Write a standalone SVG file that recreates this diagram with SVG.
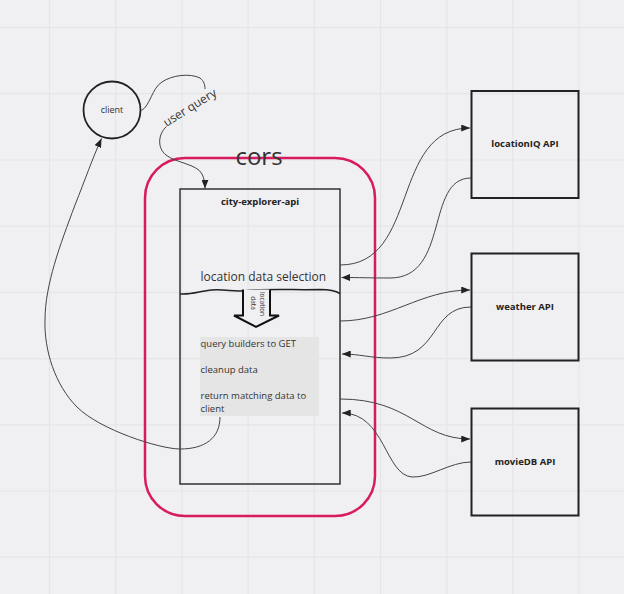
<svg xmlns="http://www.w3.org/2000/svg" width="624" height="594" viewBox="0 0 624 594">
<defs>
<style>
.grid{stroke:#e5e5e8;stroke-width:1.2}
.box{fill:none;stroke:#222;stroke-width:2}
.lbl{font-family:"Open Sans","Liberation Sans",sans-serif;fill:#333}
.bold{font-weight:bold;fill:#222}
.conn{fill:none;stroke:#444;stroke-width:1}
</style>
<marker id="ah" viewBox="0 0 10 8" refX="10" refY="4" markerWidth="9" markerHeight="7" markerUnits="userSpaceOnUse" orient="auto">
<path d="M0,0 L10,4 L0,8 z" fill="#222"/>
</marker>
</defs>
<rect width="624" height="594" fill="#f0eff1"/>
<g id="grid">
<path class="grid" d="M49.5,0V594M115.7,0V594M181.9,0V594M248.1,0V594M314.3,0V594M380.5,0V594M446.7,0V594M512.9,0V594M579.1,0V594M0,27.5H624M0,93.7H624M0,160H624M0,226.2H624M0,292.4H624M0,358.6H624M0,424.8H624M0,491H624M0,557.2H624"/>
</g>
<g id="cors">
<rect x="145" y="158" width="230" height="358" rx="40" fill="none" stroke="#d81b5e" stroke-width="2.5"/>
<text class="lbl" x="259" y="165" font-size="24" text-anchor="middle" fill="#222">cors</text>
</g>
<g id="client">
<circle cx="112" cy="110" r="28.5" fill="none" stroke="#222" stroke-width="1.8"/>
<text class="lbl" x="112" y="113" font-size="9" text-anchor="middle">client</text>
</g>
<g id="city-explorer-api">
<rect x="180" y="189" width="160" height="295" fill="none" stroke="#333" stroke-width="1.5"/>
<text class="lbl bold" x="260" y="205" font-size="9.5" text-anchor="middle">city-explorer-api</text>
<text class="lbl" x="200.5" y="281" font-size="12">location data selection</text>
<path d="M180,294 C192,295 200,291 212,290 C228,289 236,293 250,290 C275,289 300,290 320,289.5 C330,289.5 336,291 340,293.5" fill="none" stroke="#222" stroke-width="1.5"/>
<path d="M243,289.5 V315.5 H234 L256,327 L279,315.5 H270 V289.5" fill="#f0eff1" stroke="#111" stroke-width="2"/>
<text class="lbl" font-size="6.5" text-anchor="middle" transform="translate(259.5,304) rotate(90)">location</text>
<text class="lbl" font-size="6.5" text-anchor="middle" transform="translate(250.5,303) rotate(90)">data</text>
<rect x="200" y="337" width="119" height="79" fill="#e5e5e6"/>
<text class="lbl" font-size="9.5" x="200.5" y="347" fill="#444">query builders to GET</text>
<text class="lbl" font-size="9.5" x="200.5" y="372.5" fill="#444">cleanup data</text>
<text class="lbl" font-size="9.5" x="200.5" y="399" fill="#444">return matching data to</text>
<text class="lbl" font-size="9.5" x="200.5" y="412" fill="#444">client</text>
</g>
<g id="locationIQ-API">
<rect class="box" x="471.5" y="91" width="107" height="107"/>
<text class="lbl bold" x="525" y="147" font-size="9.5" text-anchor="middle">locationIQ API</text>
</g>
<g id="weather-API">
<rect class="box" x="471.5" y="253.5" width="107" height="107"/>
<text class="lbl bold" x="525" y="310" font-size="9.5" text-anchor="middle">weather API</text>
</g>
<g id="movieDB-API">
<rect class="box" x="471.5" y="408.5" width="107" height="107"/>
<text class="lbl bold" x="525" y="465" font-size="9.5" text-anchor="middle">movieDB API</text>
</g>
<g id="connectors">
<path class="conn" d="M141.5,110.5 C150,106 152,88 162,82 C172,75 190,73 200,78 C204,81 205,85 205,89"/>
<text class="lbl" font-size="12" text-anchor="middle" transform="translate(192,111) rotate(-32)">user query</text>
<path class="conn" marker-end="url(#ah)" d="M166.5,126.5 C158,134 157,148 166,155 C176,163 197,164 202,174 C204,178 205,183 205,188.5"/>
<path class="conn" marker-end="url(#ah)" d="M220,417 C220,438 205,449 180,449 C160,449 100,430 77,407 C55,385 44,350 45,320 C45,285 60,245 75,205 C85,180 93,157 101.5,138.5"/>
<path class="conn" marker-end="url(#ah)" d="M340,265 C420,265 390,128 470,128"/>
<path class="conn" marker-end="url(#ah)" d="M471,178 C425,178 450,278 390,278 C370,278 360,277.5 341.5,277.5"/>
<path class="conn" marker-end="url(#ah)" d="M340,321 C390,321 420,290 470,290"/>
<path class="conn" marker-end="url(#ah)" d="M471,307 C430,307 440,358 390,358 C370,358 360,354 342,354"/>
<path class="conn" marker-end="url(#ah)" d="M340,399 C410,399 420,439 470,439"/>
<path class="conn" marker-end="url(#ah)" d="M471,462 C450,462 430,478 412,477 C385,475 385,413 342,413"/>
</g>
</svg>
